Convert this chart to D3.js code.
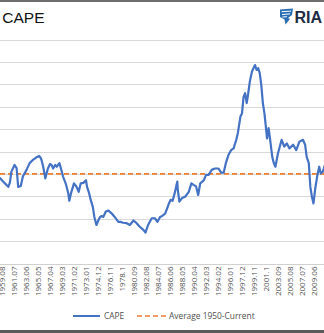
<!DOCTYPE html>
<html>
<head>
<meta charset="utf-8">
<script src="https://cdn.jsdelivr.net/npm/d3@7/dist/d3.min.js"></script>
<style>
  html, body { margin: 0; padding: 0; background: #fff; overflow: hidden; }
  svg { display: block; }
</style>
</head>
<body>
<svg id="chart" width="324" height="333"></svg>
<script>
// Shiller CAPE, month stamps as "YYYY.MM"
const capeDates = [
  "1958.10","1959.04","1959.10","1960.05","1960.08","1960.11","1961.02","1961.08","1961.12",
  "1962.03","1962.08","1962.12","1963.07","1964.01","1964.08","1965.02","1965.07","1965.10",
  "1965.12","1966.03","1966.07","1966.12","1967.04","1967.07","1967.10","1968.02","1968.05",
  "1968.10","1969.01","1969.05","1969.10","1970.03","1970.05","1970.09","1971.02","1971.07",
  "1971.11","1972.03","1972.08","1973.01","1973.03","1973.07","1973.10","1974.02","1974.05",
  "1974.09","1975.01","1975.04","1975.07","1975.10","1976.03","1976.08","1977.02","1977.08",
  "1978.03","1978.07","1978.12","1979.07","1980.01","1980.08","1981.02","1981.08","1982.03",
  "1982.07","1982.12","1983.07","1984.01","1984.06","1984.11","1985.03","1985.09","1986.04",
  "1986.07","1986.11","1987.03","1987.08","1987.09","1987.12","1988.05","1988.11","1989.06",
  "1989.11","1990.04","1990.08","1990.12","1991.04","1991.11","1992.03","1992.08","1993.02",
  "1993.08","1994.03","1994.08","1995.01","1995.05","1995.10","1996.03","1996.08","1996.10",
  "1997.01","1997.04","1997.09","1997.12","1998.03","1998.06","1998.09","1998.12","1999.03",
  "1999.07","1999.10","2000.01","2000.04","2000.07","2000.10","2001.01","2001.04","2001.07",
  "2001.10","2001.12","2002.03","2002.06","2002.10","2003.01","2003.04","2003.09","2004.02",
  "2004.04","2004.09","2005.02","2005.07","2006.02","2006.08","2007.02","2007.09","2008.01",
  "2008.04","2008.08","2008.11","2009.02","2009.05","2009.08","2009.12","2010.04","2010.07",
  "2010.11","2011.03","2011.08"
];
const capeValues = [
  18.6, 19.1, 18.3, 17.5, 17.1, 18.0, 20.5, 22.0, 21.3,
  17.1, 17.3, 19.4, 20.9, 22.4, 23.2, 23.7, 24.0, 23.6,
  23.0, 21.6, 19.0, 21.2, 22.2, 22.0, 21.2, 22.0, 21.6,
  22.4, 21.2, 19.4, 17.9, 15.7, 14.0, 16.0, 17.9, 17.1,
  16.0, 17.9, 18.0, 18.6, 17.1, 15.7, 14.2, 12.7, 10.4,
  8.6, 9.7, 10.4, 10.6, 10.4, 11.6, 11.8, 11.2, 10.4,
  9.3, 9.3, 9.1, 9.0, 8.6, 9.6, 9.0, 8.2, 7.5,
  6.9, 8.6, 10.1, 10.1, 9.3, 10.4, 10.6, 11.2, 13.4,
  14.2, 14.0, 15.7, 18.3, 16.4, 13.8, 14.6, 14.9, 16.0,
  17.9, 17.5, 17.2, 15.3, 17.9, 18.6, 19.8, 19.8, 20.9,
  21.2, 21.2, 20.3, 20.3, 22.4, 24.2, 25.3, 25.7, 26.5,
  27.6, 29.1, 32.8, 33.5, 37.2, 38.0, 35.8, 38.0, 40.6,
  42.8, 43.6, 44.3, 43.2, 43.6, 42.5, 39.8, 35.8, 33.5,
  30.2, 27.9, 30.2, 27.6, 23.8, 22.4, 21.6, 24.6, 26.8,
  27.6, 26.1, 26.8, 25.7, 26.5, 25.3, 27.2, 27.6, 26.5,
  23.8, 22.4, 17.1, 14.9, 13.4, 16.4, 19.4, 21.6, 20.1,
  20.5, 22.0, 20.0
];
const averageValue = 20.0;

// Category tick labels along the bottom axis
const tickLabels = [
  "1959.08","1961.07","1963.06","1965.05","1967.04","1969.03","1971.02","1973.01","1974.12",
  "1976.11","1978.1","1980.09","1982.08","1984.07","1986.06","1988.05","1990.04","1992.03",
  "1994.02","1996.01","1997.12","1999.11","2001.1","2003.09","2005.08","2007.07","2009.06"
];
const yTicks = [0, 5, 10, 15, 20, 25, 30, 35, 40, 45, 50];

const seriesNames = ["CAPE", "Average 1950-Current"];
const colors = { cape: "#4472C4", avg: "#ED7D31", grid: "#d9d9d9", text: "#505050" };

// month index from a "YYYY.MM" stamp (tick labels drop a trailing zero, e.g. 1978.1)
function monthIndex(s) {
  const [y, m] = s.split(".");
  const mm = m.length === 1 ? +m * 10 : +m;
  return (+y) * 12 + (mm - 1);
}

const svg = d3.select("#chart");
const W = 324, H = 333;

// outer frame bands
svg.append("rect").attr("x", 0).attr("y", 0).attr("width", W).attr("height", 2).attr("fill", "#6e6e6e");
svg.append("rect").attr("x", 0).attr("y", 330).attr("width", W).attr("height", 3).attr("fill", "#5a5a5a");

// title and brand mark
svg.append("text")
  .attr("x", 44.5).attr("y", 23)
  .attr("text-anchor", "end")
  .attr("font-family", "Liberation Sans, Arial, sans-serif")
  .attr("font-size", 15.5)
  .attr("fill", "#111")
  .text("Real S&P 500 Index To CAPE");

const logo = svg.append("g").attr("transform", "translate(280,8.5)");
logo.append("path")
  .attr("d", "M0,1 L13,0 L12,6.5 L8,9.5 L10,10.5 L5.5,16 L4.5,11 L0,8.5 Z")
  .attr("fill", "#2a6fb3");
logo.append("path")
  .attr("d", "M1.5,3.2 L11,2.6 M2,6 L10,5.4 M2.5,8.5 L7,8.2")
  .attr("stroke", "#ffffff").attr("stroke-width", 1);
svg.append("text")
  .attr("x", 294.5).attr("y", 23)
  .attr("font-family", "Liberation Sans, Arial, sans-serif")
  .attr("font-weight", "bold")
  .attr("font-size", 16)
  .attr("fill", "#1d2b45")
  .text("RIA");

// scales: monthly category positions, CAPE value
const m0 = monthIndex("1959.08");
const x = d3.scaleLinear()
  .domain([m0, m0 + 598])
  .range([2, 314]);
const y = d3.scaleLinear()
  .domain([0, 50])
  .range([263.5, 39.5]);

// gridlines
svg.append("g")
  .selectAll("line")
  .data(yTicks.filter(d => d > 0))
  .join("line")
  .attr("x1", 0).attr("x2", W)
  .attr("y1", d => Math.round(y(d)) + 0.5)
  .attr("y2", d => Math.round(y(d)) + 0.5)
  .attr("stroke", colors.grid)
  .attr("stroke-width", 1);

// baseline axis line
svg.append("line")
  .attr("x1", 0).attr("x2", W)
  .attr("y1", Math.round(y(0)) + 0.5).attr("y2", Math.round(y(0)) + 0.5)
  .attr("stroke", "#d0d0d0");

// rotated category labels
const xAxis = d3.axisBottom(x)
  .tickValues(tickLabels.map(monthIndex))
  .tickFormat((d, i) => tickLabels[i])
  .tickSize(0);
const gx = svg.append("g")
  .attr("transform", `translate(0,${y(0) + 3})`)
  .call(xAxis);
gx.select(".domain").remove();
gx.selectAll("text")
  .attr("font-family", "Open Sans, Liberation Sans, sans-serif")
  .attr("font-size", 8)
  .attr("fill", colors.text)
  .attr("text-anchor", "end")
  .attr("dy", "0.32em")
  .attr("dx", 0)
  .attr("y", 0)
  .attr("transform", "rotate(-90)");

// average reference line
svg.append("line")
  .attr("x1", 0).attr("x2", W)
  .attr("y1", y(averageValue)).attr("y2", y(averageValue))
  .attr("stroke", colors.avg)
  .attr("stroke-width", 1.6)
  .attr("stroke-dasharray", "5,3");

// CAPE series
const capeData = capeDates.map((d, i) => ({ m: monthIndex(d), v: capeValues[i] }));
svg.append("path")
  .datum(capeData)
  .attr("fill", "none")
  .attr("stroke", colors.cape)
  .attr("stroke-width", 2.2)
  .attr("stroke-linejoin", "round")
  .attr("d", d3.line().x(d => x(d.m)).y(d => y(d.v)));

// legend
const legend = svg.append("g").attr("font-family", "Open Sans, Liberation Sans, sans-serif")
  .attr("font-size", 8.4).attr("fill", colors.text);
legend.append("line").attr("x1", 73).attr("x2", 100).attr("y1", 316).attr("y2", 316)
  .attr("stroke", colors.cape).attr("stroke-width", 2);
legend.append("text").attr("x", 104).attr("y", 319).text(seriesNames[0]);
legend.append("line").attr("x1", 137).attr("x2", 166).attr("y1", 316).attr("y2", 316)
  .attr("stroke", colors.avg).attr("stroke-width", 1.6).attr("stroke-dasharray", "5,3");
legend.append("text").attr("x", 169).attr("y", 319).text(seriesNames[1]);
</script>
</body>
</html>
